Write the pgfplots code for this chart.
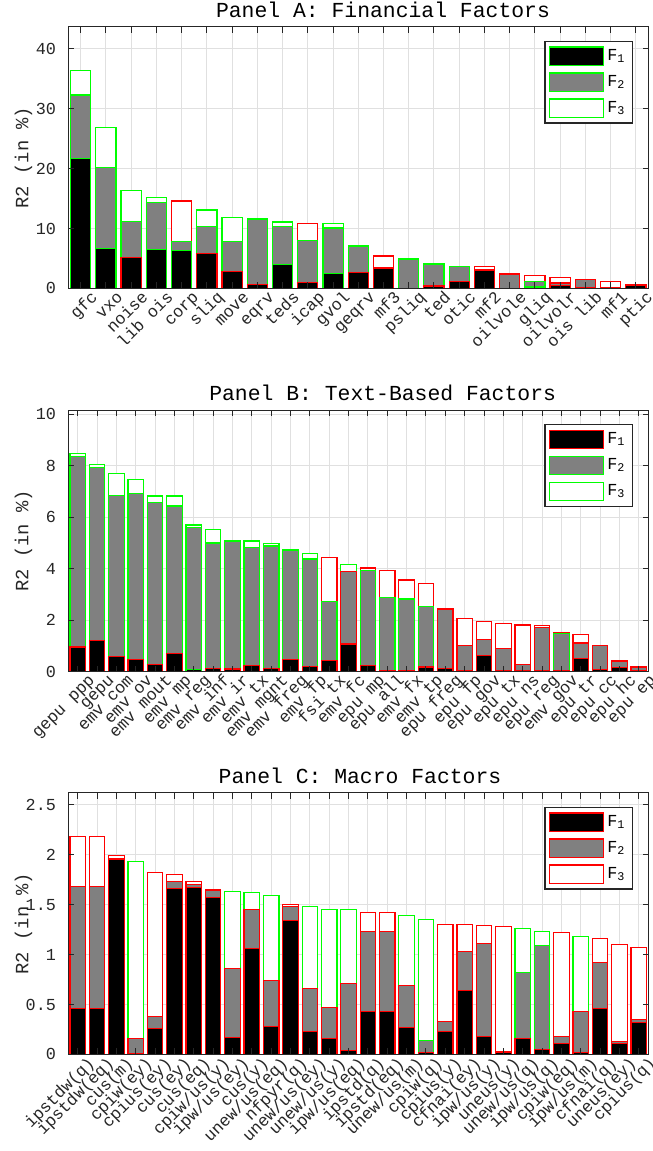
\documentclass[border=0pt]{standalone}
\usepackage{pgfplots}
\pgfplotsset{compat=1.18}
\usepackage{fontspec}
\setmainfont{Liberation Mono}
\definecolor{myred}{rgb}{1,0,0}
\definecolor{mygreen}{rgb}{0,1,0}
\definecolor{mygray}{rgb}{0.5,0.5,0.5}
\definecolor{axgray}{rgb}{0.15,0.15,0.15}
\definecolor{gridgray}{rgb}{0.88,0.88,0.88}
\newcommand{\legbox}[2]{\addlegendimage{legend image code/.code={\draw[fill=#1,draw=#2,line width=0.6pt] (0pt,-4.6pt) rectangle (27pt,4.6pt);}}}
\pgfplotsset{
  layers/mylayers/.define layer set={
    axis background,axis grid,main,axis ticks,axis lines,axis tick labels,axis descriptions,axis foreground
  }{
    grid style={/pgfplots/on layer=axis grid},
    tick style={/pgfplots/on layer=axis ticks},
    axis line style={/pgfplots/on layer=axis lines},
    label style={/pgfplots/on layer=axis descriptions},
    legend style={/pgfplots/on layer=axis descriptions},
    title style={/pgfplots/on layer=axis descriptions},
    colorbar style={/pgfplots/on layer=axis descriptions},
    ticklabel style={/pgfplots/on layer=axis tick labels},
    axis background@ style={/pgfplots/on layer=axis background},
    3d box foreground style={/pgfplots/on layer=axis foreground},
  },
  panel/.style={
    set layers=mylayers,
    scale only axis, width=290.25pt, height=130.8pt, anchor=north west,
    xmin=0.5, ymin=0,
    tick align=inside, major tick length=3pt,
    tick style={axgray, line width=0.5pt},
    axis line style={axgray, line width=0.5pt},
    grid=major, grid style={gridgray, line width=0.5pt},
    /pgf/number format/assume math mode=true,
    ticklabel style={font=\fontsize{8.4}{9}\selectfont, text=axgray},
    xticklabel style={inner sep=0pt, text height=0.7em, text depth=0.2em, xshift=7.2pt, yshift=-3pt, rotate=45, anchor=east},
    yticklabel style={xshift=-2.5pt},
    ylabel={R2 (in \%)},
    ylabel style={at={(axis description cs:-0.0768,0.5)}, anchor=center, font=\fontsize{9.4}{10}\selectfont, text=axgray},
    every axis title shift=0pt,
    title style={anchor=base, yshift=4.8pt, font=\fontsize{10.7}{12}\selectfont},
    legend style={at={(0.9733,0.9465)}, anchor=north east, draw=axgray, line width=0.6pt, fill=white,
      font=\fontsize{8.4}{9}\selectfont, inner xsep=2pt, inner ysep=2.5pt, row sep=3.2pt,
      nodes={inner xsep=1.5pt, inner ysep=0.3pt}},
    legend cell align=left,
  },
  b3r/.style={ybar, bar width=0.8, bar shift=0pt, fill=white, draw=myred, line width=0.6pt, forget plot},
  b3g/.style={ybar, bar width=0.8, bar shift=0pt, fill=white, draw=mygreen, line width=0.6pt, forget plot},
  b2r/.style={ybar, bar width=0.8, bar shift=0pt, fill=mygray, draw=myred, line width=0.6pt, forget plot},
  b2g/.style={ybar, bar width=0.8, bar shift=0pt, fill=mygray, draw=mygreen, line width=0.6pt, forget plot},
  b1r/.style={ybar, bar width=0.8, bar shift=0pt, fill=black, draw=myred, line width=0.6pt, forget plot},
  b1g/.style={ybar, bar width=0.8, bar shift=0pt, fill=black, draw=mygreen, line width=0.6pt, forget plot},
}
\begin{document}
\begin{tikzpicture}
% ---------------- Panel A
\begin{axis}[panel, at={(34pt,-13.4pt)}, ymax=43.7, xmax=23.5,
  xtick={1,...,23}, ytick={0,10,20,30,40},
  xticklabels={gfc,vxo,noise,lib ois,corp,sliq,move,eqrv,teds,icap,gvol,geqrv,mf3,psliq,ted,otic,mf2,oilvole,gliq,oilvolr,ois lib,mf1,ptic},
  title={Panel A: Financial Factors}, title style={at={(0.5426,1)}}]
\addplot[b3r] coordinates {(5,14.6)(10,10.9)(13,5.4)(17,3.6)(18,2.5)(19,2.2)(20,1.8)(21,1.5)(22,1.1)(23,0.6)};
\addplot[b3g] coordinates {(1,36.4)(2,26.9)(3,16.3)(4,15.2)(6,13.1)(7,11.8)(8,11.7)(9,11.1)(11,10.8)(12,7.2)(14,5.0)(15,4.1)(16,3.7)};
\addplot[b2r] coordinates {(13,3.5)(17,3.2)(18,2.4)(20,0.9)(21,1.5)(22,0.2)(23,0.55)};
\addplot[b2g] coordinates {(1,32.3)(2,20.2)(3,11.2)(4,14.3)(5,7.9)(6,10.3)(7,7.8)(8,11.5)(9,10.4)(10,8.0)(11,10.1)(12,7.0)(14,4.9)(15,4.0)(16,3.6)(19,1.1)};
\addplot[b1r] coordinates {(3,5.1)(6,5.8)(7,2.8)(8,0.7)(10,1.0)(12,2.7)(13,3.4)(14,0.05)(15,0.4)(16,1.1)(17,3.0)(18,0.05)(20,0.5)(21,0.1)(22,0.1)(23,0.5)};
\addplot[b1g] coordinates {(1,21.7)(2,6.6)(4,6.5)(5,6.3)(9,4.0)(11,2.5)(19,0.25)};
\legbox{black}{mygreen}\addlegendentry{F\textsubscript{1}}
\legbox{mygray}{mygreen}\addlegendentry{F\textsubscript{2}}
\legbox{white}{mygreen}\addlegendentry{F\textsubscript{3}}
\end{axis}
% ---------------- Panel B
\begin{axis}[panel, at={(34pt,-205pt)}, ymax=10.17, xmax=30.5,
  xtick={1,...,30}, ytick={0,2,4,6,8,10},
  xticklabels={gepu ppp,gepu,emv com,emv ov,emv mout,emv mp,emv reg,emv inf,emv ir,emv tx,emv mgnt,emv freg,emv fp,fsi tx,emv fc,epu mp,epu all,emv fx,emv tp,epu freg,epu fp,epu gov,epu tx,epu ns,epu reg,emv gov,epu tr,epu cc,epu hc,epu ep},
  title={Panel B: Text-Based Factors}, title style={at={(0.542,1)}}]
\addplot[b3r] coordinates {(14,4.45)(16,4.03)(17,3.93)(18,3.56)(19,3.41)(20,2.46)(21,2.07)(22,1.95)(23,1.86)(24,1.81)(25,1.79)(26,1.53)(27,1.44)(28,1.03)(29,0.43)(30,0.2)};
\addplot[b3g] coordinates {(1,8.48)(2,8.04)(3,7.70)(4,7.46)(5,6.83)(6,6.83)(7,5.70)(8,5.54)(9,5.08)(10,5.08)(11,4.99)(12,4.76)(13,4.58)(15,4.15)};
\addplot[b2r] coordinates {(15,3.88)(20,2.42)(21,1.03)(22,1.24)(23,0.9)(24,0.29)(25,1.72)(27,1.11)(28,1.01)(29,0.4)(30,0.16)};
\addplot[b2g] coordinates {(1,8.37)(2,7.93)(3,6.84)(4,6.92)(5,6.57)(6,6.44)(7,5.59)(8,5.0)(9,5.05)(10,4.84)(11,4.88)(12,4.71)(13,4.38)(14,2.72)(16,3.93)(17,2.89)(18,2.82)(19,2.54)(26,1.48)};
\addplot[b1r] coordinates {(1,0.96)(2,1.2)(3,0.59)(4,0.47)(5,0.27)(6,0.70)(8,0.12)(9,0.1)(10,0.23)(11,0.13)(12,0.48)(13,0.2)(14,0.44)(15,1.07)(16,0.25)(17,0.02)(18,0.02)(19,0.18)(20,0.13)(21,0.05)(22,0.64)(23,0.04)(24,0.04)(25,0.03)(26,0.02)(27,0.51)(28,0.08)(29,0.16)(30,0.05)};
\addplot[b1g] coordinates {(7,0.07)};
\legbox{black}{myred}\addlegendentry{F\textsubscript{1}}
\legbox{mygray}{mygreen}\addlegendentry{F\textsubscript{2}}
\legbox{white}{mygreen}\addlegendentry{F\textsubscript{3}}
\end{axis}
% ---------------- Panel C
\begin{axis}[panel, at={(34pt,-396.4pt)}, ymax=2.62, xmax=30.5,
  xtick={1,...,30}, ytick={0,0.5,1,1.5,2,2.5},
  xticklabels={ipstdw(q),ipstdw(eq),cus(m),cpiw(ey),cpius(ey),cus(ey),cus(eq),cpiw/us(y),ipw/us(ey),cus(y),unew/us(eq),nfpyr(q),unew/us(ey),unew/us(y),ipw/us(eq),ipstd(q),ipstd(eq),unew/us(m),cpiw(q),cpius(y),cfnai(ey),ipw/us(y),uneus(y),unew/us(q),ipw/us(q),cpiw(eq),ipw/us(m),cfnai(q),uneus(ey),cpius(q)},
  title={Panel C: Macro Factors}, title style={at={(0.503,1)}}]
\addplot[b3r] coordinates {(1,2.18)(2,2.18)(3,1.99)(5,1.82)(6,1.80)(7,1.73)(8,1.65)(12,1.50)(16,1.42)(17,1.42)(20,1.30)(21,1.30)(22,1.29)(23,1.28)(26,1.22)(28,1.16)(29,1.10)(30,1.07)};
\addplot[b3g] coordinates {(4,1.93)(9,1.63)(10,1.62)(11,1.59)(13,1.48)(14,1.45)(15,1.45)(18,1.39)(19,1.35)(24,1.26)(25,1.23)(27,1.18)};
\addplot[b2r] coordinates {(1,1.68)(2,1.68)(3,1.96)(4,0.16)(5,0.38)(6,1.73)(7,1.70)(8,1.64)(9,0.86)(10,1.45)(11,0.74)(12,1.48)(13,0.66)(14,0.47)(15,0.71)(16,1.23)(17,1.23)(18,0.69)(20,0.33)(21,1.03)(22,1.11)(23,0.03)(26,0.18)(27,0.43)(28,0.92)(29,0.13)(30,0.35)};
\addplot[b2g] coordinates {(19,0.14)(24,0.82)(25,1.09)};
\addplot[b1r] coordinates {(1,0.46)(2,0.46)(3,1.95)(4,0.005)(5,0.26)(6,1.66)(7,1.67)(8,1.57)(9,0.17)(10,1.06)(11,0.28)(12,1.34)(13,0.23)(14,0.16)(15,0.04)(16,0.43)(17,0.43)(18,0.27)(19,0.02)(20,0.23)(21,0.64)(22,0.18)(23,0.02)(24,0.16)(25,0.05)(26,0.11)(27,0.02)(28,0.46)(29,0.11)(30,0.32)};
\legbox{black}{myred}\addlegendentry{F\textsubscript{1}}
\legbox{mygray}{myred}\addlegendentry{F\textsubscript{2}}
\legbox{white}{myred}\addlegendentry{F\textsubscript{3}}
\end{axis}
\pgfresetboundingbox
\path[use as bounding box] (0,0) rectangle (326.5pt,-575.5pt);
\end{tikzpicture}
\end{document}
